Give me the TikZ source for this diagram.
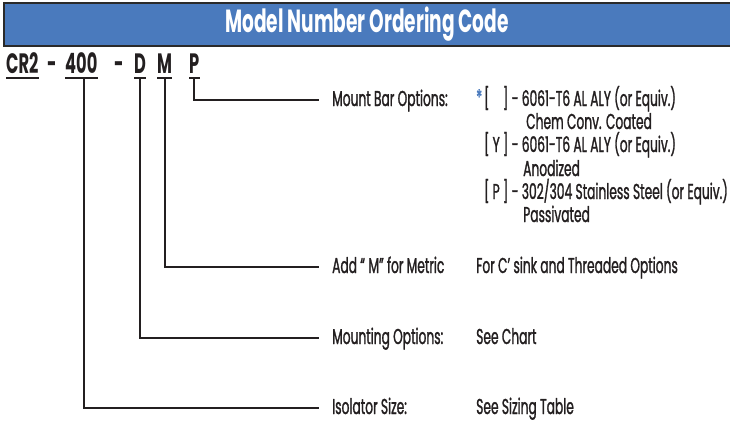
\documentclass[tikz,border=0pt]{standalone}
\usepackage{fontspec}
\setmainfont{Poppins}[FakeStretch=0.58]
\newfontfamily\lblfont{Poppins}[FakeStretch=0.57,FakeBold=1.2]
\definecolor{hdrblue}{HTML}{4A7ABD}
\definecolor{ink}{HTML}{231F20}
\definecolor{hdrborder}{HTML}{2A2A2A}
\begin{document}
\begin{tikzpicture}[x=1pt,y=-1pt,
  lbl/.style={anchor=west,inner sep=0pt,text height=12pt,text depth=0pt,font=\lblfont\fontsize{21.5}{21.5}\selectfont,text=ink},
  codetxt/.style={anchor=base west,inner sep=0pt,font=\bfseries\fontsize{28}{28}\selectfont,text=ink},
  conn/.style={draw=ink,line width=1.7pt,shorten >=13pt},
  uline/.style={draw=ink,line width=1.5pt}]
\useasboundingbox (0,0) rectangle (730,421);
% header
\node[draw=hdrborder,fill=hdrblue,line width=2.2pt,minimum width=740pt,minimum height=43pt,inner sep=0pt] (hdr) at (374,24.5) {};
\node[inner sep=0pt,text=white,font=\bfseries\fontsize{32}{32}\selectfont] (title) at (367,24) {Model Number Ordering Code};
% model code
\node[codetxt] (cr) at (6,73) {CR2};
\node[codetxt] (d1) at (47,73) {-};
\node[codetxt] (n400) at (65,73) {400};
\node[codetxt] (d2) at (114,73) {-};
\node[codetxt] (cd) at (134,73) {D};
\node[codetxt] (cm) at (157,73) {M};
\node[codetxt] (cp) at (189,73) {P};
\foreach \n in {cr,n400,cd,cm,cp}
  \draw[uline] ([yshift=-5pt]\n.base west) -- ([yshift=-5pt]\n.base east);
% labels
\node[lbl] (mount) at (332,100) {Mount Bar Options:};
\node[lbl] (metric) at (332,267) {Add “\,M” for Metric};
\node[lbl] (mounting) at (332,338) {Mounting Options:};
\node[lbl] (size) at (332,408) {Isolator Size:};
% descriptions
\node[lbl,text=hdrblue] (star) at (476,99) {*};
\node[lbl] (r1) at (484,100) {\makebox[24pt][s]{[\hfill]}\,- 6061-T6 AL ALY (or Equiv.)};
\node[lbl] (r2) at (526,123) {Chem Conv. Coated};
\node[lbl] (r3) at (484,146) {\makebox[24pt][s]{[\hfill Y\hfill]}\,- 6061-T6 AL ALY (or Equiv.)};
\node[lbl] (r4) at (523,170) {Anodized};
\node[lbl] (r5) at (484,193) {\makebox[24pt][s]{[\hfill P\hfill]}\,- 302/304 Stainless Steel (or Equiv.)};
\node[lbl] (r6) at (523,216) {Passivated};
\node[lbl] (metricdesc) at (476,267) {For C’ sink and Threaded Options};
\node[lbl] (mountingdesc) at (476,338) {See Chart};
\node[lbl] (sizedesc) at (476,408) {See Sizing Table};
% connectors
\draw[conn] ([yshift=-5pt]cp.base) |- (mount.west);
\draw[conn] ([yshift=-5pt]cm.base) |- (metric.west);
\draw[conn] ([yshift=-5pt]cd.base) |- (mounting.west);
\draw[conn] ([xshift=3pt,yshift=-5pt]n400.base) |- (size.west);
\end{tikzpicture}
\end{document}
